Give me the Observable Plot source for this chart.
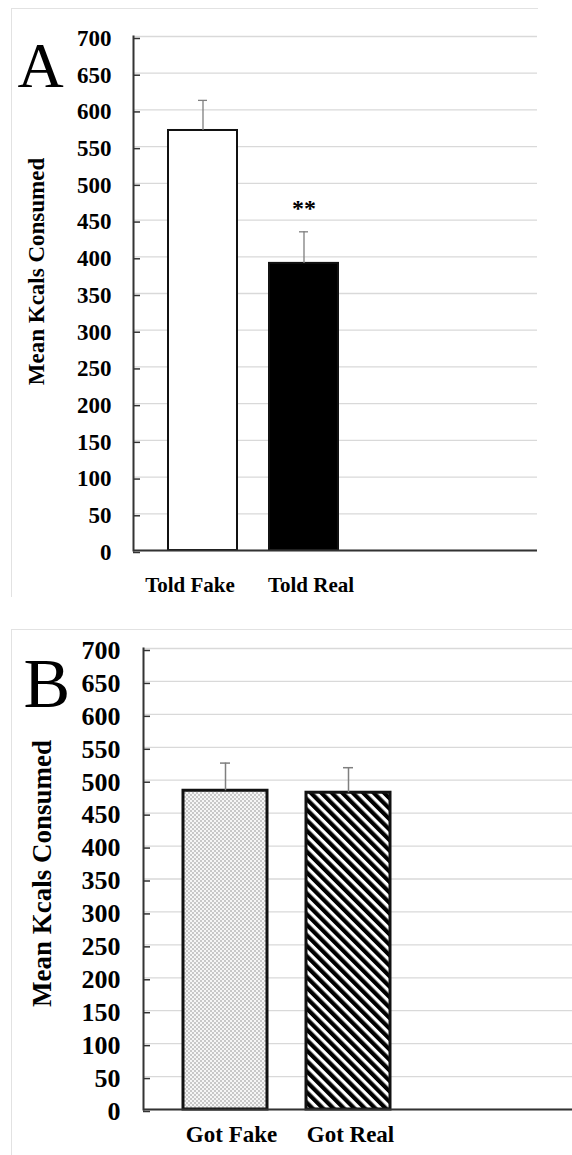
<!DOCTYPE html>
<html>
<head>
<meta charset="utf-8">
<script src="https://cdn.jsdelivr.net/npm/d3@7"></script>
<script src="https://cdn.jsdelivr.net/npm/@observablehq/plot@0.6"></script>
<style>
  body { margin: 0; background: #fff; }
  #wrap { position: relative; width: 572px; height: 1155px; overflow: hidden; font-family: "Liberation Serif", "Times New Roman", serif; }
  .panel { position: absolute; left: 0; }
  .border { position: absolute; border-left: 1.5px solid #e2e2e2; border-top: 1.5px solid #e2e2e2; pointer-events: none; }
</style>
</head>
<body>
<div id="wrap">
  <div id="a" class="panel" style="top:0px"></div>
  <div id="b" class="panel" style="top:600px"></div>
  <div class="border" style="left:11px;top:8px;width:526px;height:588px"></div>
  <div class="border" style="left:11px;top:629px;width:561px;height:526px"></div>
</div>
<script>
// ---- data ----
const yTicks = [0, 50, 100, 150, 200, 250, 300, 350, 400, 450, 500, 550, 600, 650, 700];
const yTitle = "Mean Kcals Consumed";

const panelALetter = "A";
const panelACategories = ["Told Fake", "Told Real"];
const panelAMeans = [572, 391];
const panelAErrors = [41, 43];
const panelASignificance = ["", "**"];

const panelBLetter = "B";
const panelBCategories = ["Got Fake", "Got Real"];
const panelBMeans = [484, 481];
const panelBErrors = [42, 38];

// ---- tables ----
const rowsA = panelACategories.map((c, i) => ({cat: c, mean: panelAMeans[i], top: panelAMeans[i] + panelAErrors[i], sig: panelASignificance[i]}));
const rowsB = panelBCategories.map((c, i) => ({cat: c, mean: panelBMeans[i], top: panelBMeans[i] + panelBErrors[i]}));

const FONT = "Liberation Serif, Times New Roman, serif";
const GRID = "#d9d9d9";
const AXIS = "#333";
const ERR = "#7f7f7f";

// ---- Panel A ----
const plotA = Plot.plot({
  width: 572, height: 600,
  marginTop: 36, marginBottom: 50, marginLeft: 133, marginRight: 35,
  style: {background: "transparent", fontFamily: FONT, color: "#000", overflow: "visible"},
  x: {domain: panelACategories, paddingInner: 0.32, paddingOuter: 1.157, align: 0.149, axis: null},
  y: {domain: [0, 700], axis: null},
  marks: [
    Plot.gridY(yTicks, {stroke: GRID, strokeOpacity: 1, strokeWidth: 1.3}),
    Plot.axisY(yTicks, {anchor: "left", tickSize: -7, tickPadding: 29, stroke: AXIS, strokeWidth: 1.5, fontSize: 23, fontWeight: "bold", label: null, dy: 2, tickFormat: d => String(d)}),
    Plot.frame({anchor: "left", stroke: AXIS, strokeWidth: 2}),
    Plot.barY([rowsA[0]], {x: "cat", y: "mean", fill: "white", stroke: "#111", strokeWidth: 2}),
    Plot.barY([rowsA[1]], {x: "cat", y: "mean", fill: "black", stroke: "#111", strokeWidth: 2}),
    Plot.ruleX(rowsA, {x: "cat", y1: "mean", y2: "top", stroke: ERR, strokeWidth: 1.3}),
    Plot.tickY(rowsA, {x: "cat", y: "top", stroke: ERR, strokeWidth: 1.3, insetLeft: 30, insetRight: 30}),
    Plot.ruleY([0], {stroke: AXIS, strokeWidth: 2}),
    Plot.text(rowsA, {x: "cat", y: "top", text: "sig", dy: -24, fontSize: 24, fontWeight: "bold", lineAnchor: "middle"}),
    Plot.text([rowsA[0]], {x: "cat", text: "cat", frameAnchor: "bottom", lineAnchor: "middle", dy: 35, dx: -13, fontSize: 21, fontWeight: "bold"}),
    Plot.text([rowsA[1]], {x: "cat", text: "cat", frameAnchor: "bottom", lineAnchor: "middle", dy: 35, dx: 7, fontSize: 21, fontWeight: "bold"}),
    Plot.text([yTitle], {frameAnchor: "left", rotate: -90, textAnchor: "middle", lineAnchor: "middle", dx: -97, dy: -22, fontSize: 23, fontWeight: "bold"}),
    Plot.text([panelALetter], {frameAnchor: "top-left", textAnchor: "start", lineAnchor: "middle", dx: -116, dy: 30.5, fontSize: 64})
  ]
});
document.getElementById("a").appendChild(plotA);

// ---- Panel B ----
const plotB = Plot.plot({
  width: 572, height: 555,
  marginTop: 48, marginBottom: 46, marginLeft: 143, marginRight: 0,
  style: {background: "transparent", fontFamily: FONT, color: "#000", overflow: "visible"},
  x: {domain: panelBCategories, paddingInner: 0.318, paddingOuter: 0.89, align: 0.18, axis: null},
  y: {domain: [0, 700], axis: null},
  marks: [
    Plot.gridY(yTicks, {stroke: GRID, strokeOpacity: 1, strokeWidth: 1.3}),
    Plot.axisY(yTicks, {anchor: "left", tickSize: -7, tickPadding: 30, stroke: AXIS, strokeWidth: 1.5, fontSize: 26, fontWeight: "bold", label: null, dy: 2, tickFormat: d => String(d)}),
    Plot.frame({anchor: "left", stroke: AXIS, strokeWidth: 2}),
    Plot.barY([rowsB[0]], {x: "cat", y: "mean", fill: "url(#dotsB)", stroke: "#111", strokeWidth: 3}),
    Plot.barY([rowsB[1]], {x: "cat", y: "mean", fill: "url(#stripesB)", stroke: "#111", strokeWidth: 3}),
    Plot.ruleX(rowsB, {x: "cat", y1: "mean", y2: "top", stroke: ERR, strokeWidth: 1.5}),
    Plot.tickY(rowsB, {x: "cat", y: "top", stroke: ERR, strokeWidth: 1.5, insetLeft: 37, insetRight: 37}),
    Plot.ruleY([0], {stroke: AXIS, strokeWidth: 2}),
    Plot.text([rowsB[0]], {x: "cat", text: "cat", frameAnchor: "bottom", lineAnchor: "middle", dy: 25, dx: 6, fontSize: 23, fontWeight: "bold"}),
    Plot.text([rowsB[1]], {x: "cat", text: "cat", frameAnchor: "bottom", lineAnchor: "middle", dy: 25, dx: 2, fontSize: 23, fontWeight: "bold"}),
    Plot.text([yTitle], {frameAnchor: "left", rotate: -90, textAnchor: "middle", lineAnchor: "middle", dx: -101.5, dy: -5.5, fontSize: 27, fontWeight: "bold"}),
    Plot.text([panelBLetter], {frameAnchor: "top-left", textAnchor: "start", lineAnchor: "middle", dx: -120, dy: 36, fontSize: 70})
  ]
});
const defs = d3.select(plotB).insert("defs", ":first-child");
const dots = defs.append("pattern").attr("id", "dotsB").attr("patternUnits", "userSpaceOnUse").attr("width", 4).attr("height", 4);
dots.append("rect").attr("width", 4).attr("height", 4).attr("fill", "#f6f6f6");
dots.append("circle").attr("cx", 1).attr("cy", 1).attr("r", 0.7).attr("fill", "#777");
dots.append("circle").attr("cx", 3).attr("cy", 3).attr("r", 0.7).attr("fill", "#777");
const stripes = defs.append("pattern").attr("id", "stripesB").attr("patternUnits", "userSpaceOnUse").attr("width", 7.4).attr("height", 7.4).attr("patternTransform", "rotate(-45)");
stripes.append("rect").attr("width", 7.4).attr("height", 7.4).attr("fill", "white");
stripes.append("rect").attr("width", 4.2).attr("height", 7.4).attr("fill", "black");
document.getElementById("b").appendChild(plotB);
</script>
</body>
</html>
